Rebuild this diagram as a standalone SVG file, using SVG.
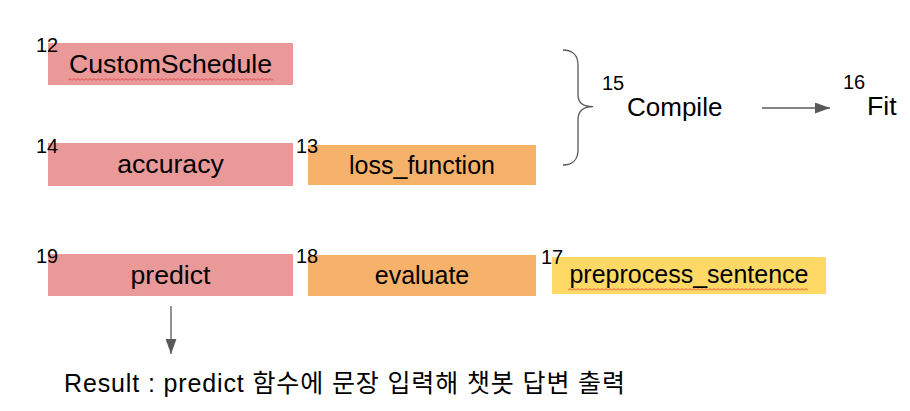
<svg xmlns="http://www.w3.org/2000/svg" width="910" height="411" viewBox="0 0 910 411">
  <style>
    text { font-family: "Liberation Sans", Arial, sans-serif; fill: #000; }
    .red { fill: #ea9999; }
    .orange { fill: #f6b26b; }
    .yellow { fill: #ffd966; }
    .lbl { font-size: 26.67px; text-anchor: middle; }
    .lbl2 { font-size: 25px; text-anchor: middle; }
    .num { font-size: 20px; }
    .conn { stroke: #595959; stroke-width: 1.3; fill: none; }
  </style>
  <defs>
    <marker id="arrow" markerUnits="userSpaceOnUse" markerWidth="15" markerHeight="11" refX="15" refY="5.5" orient="auto">
      <path d="M0,0 L15,5.5 L0,11 z" fill="#595959"/>
    </marker>
    <pattern id="squiggle" patternUnits="userSpaceOnUse" width="4" height="3">
      <path d="M0,2.5 L2,0.5 L4,2.5" stroke="#e0393e" stroke-width="0.9" fill="none"/>
    </pattern>
  </defs>

  <g id="customschedule">
    <rect class="red" x="48" y="43" width="245" height="42"/>
    <text class="lbl" x="170.5" y="73">CustomSchedule</text>
    <rect x="68" y="78" width="205" height="3" fill="url(#squiggle)"/>
    <text class="num" x="36" y="52">12</text>
  </g>

  <g id="accuracy">
    <rect class="red" x="48" y="143" width="245" height="43"/>
    <text class="lbl" x="170.5" y="173">accuracy</text>
    <text class="num" x="36" y="153">14</text>
  </g>

  <g id="loss_function">
    <rect class="orange" x="308" y="145" width="228" height="40"/>
    <text class="lbl2" x="422" y="174">loss_function</text>
    <text class="num" x="296" y="153">13</text>
  </g>

  <g id="compile">
    <text x="627" y="116" style="font-size:26px">Compile</text>
    <text class="num" x="602" y="90">15</text>
  </g>

  <g id="fit">
    <text x="867" y="115" style="font-size:26.67px">Fit</text>
    <text class="num" x="843" y="89">16</text>
  </g>

  <g id="predict">
    <rect class="red" x="48" y="254" width="245" height="42"/>
    <text class="lbl" x="170.5" y="284">predict</text>
    <text class="num" x="36" y="263">19</text>
  </g>

  <g id="evaluate">
    <rect class="orange" x="308" y="255" width="228" height="41"/>
    <text class="lbl2" x="422" y="283.5">evaluate</text>
    <text class="num" x="296" y="263">18</text>
  </g>

  <g id="preprocess_sentence">
    <rect class="yellow" x="552" y="257" width="274" height="37"/>
    <text class="lbl2" x="689" y="282.5">preprocess_sentence</text>
    <rect x="568" y="288" width="240" height="3" fill="url(#squiggle)"/>
    <text class="num" x="541" y="264">17</text>
  </g>

  <g id="result">
    <text x="64" y="392" textLength="561" lengthAdjust="spacing" style="font-size:25px; font-family:'Liberation Sans','Noto Sans CJK KR',sans-serif">Result : predict 함수에 문장 입력해 챗봇 답변 출력</text>
  </g>

  <g id="connectors">
    <path class="conn" d="M563,50 C572,50 578,55 578,65 L578,95 C578,103 584,106.7 593,106.7 C584,106.7 578,110 578,120 L578,150 C578,160 572,165 563,165"/>
    <line class="conn" x1="762" y1="108" x2="830" y2="108" marker-end="url(#arrow)"/>
    <line class="conn" x1="171" y1="306" x2="171" y2="354" marker-end="url(#arrow)"/>
  </g>
</svg>
